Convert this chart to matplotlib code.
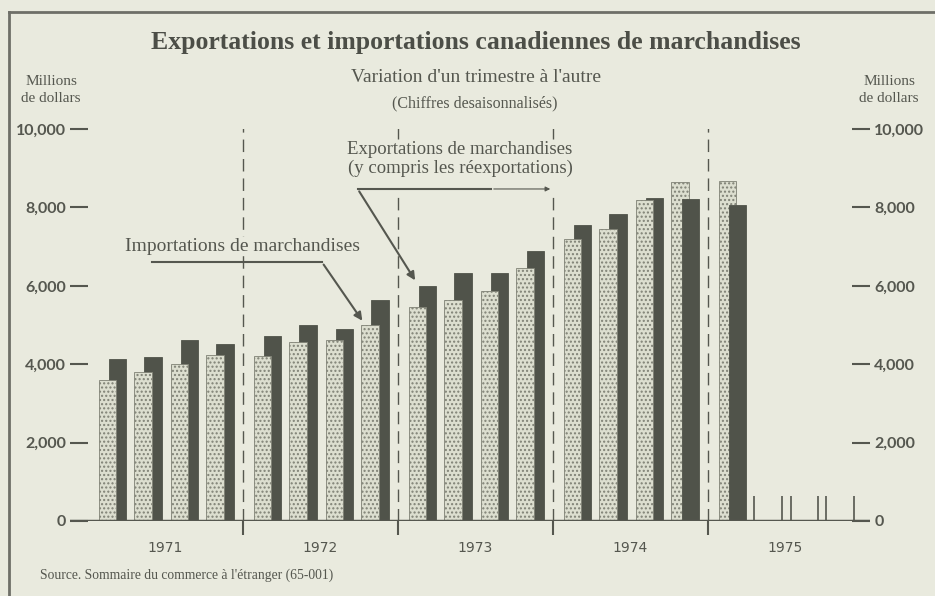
import numpy as np
import matplotlib
matplotlib.use('Agg')
import matplotlib.pyplot as plt
from matplotlib.transforms import blended_transform_factory

# donnees trimestrielles (millions de dollars, desaisonnalisees)
annees = ['1971', '1972', '1973', '1974', '1975']
importations = [3600, 3800, 4000, 4230, 4200, 4560, 4610, 5010, 5450, 5630, 5870, 6460,
                7200, 7460, 8200, 8640, 8680]
exportations = [4120, 4180, 4610, 4520, 4720, 5010, 4900, 5650, 6000, 6330, 6320, 6900,
                7560, 7820, 8250, 8220, 8070]
yticks = [0, 2000, 4000, 6000, 8000, 10000]
ylabels = ['0', '2,000', '4,000', '6,000', '8,000', '10,000']

fond = '#e9eade'
gris = '#55574f'
fonce = '#50534a'
clair = '#dcdecf'

fig = plt.figure(figsize=(9.35, 5.96), dpi=100, facecolor=fond)
ax = fig.add_axes([70/935, 1-521/596, 800/935, 392/596])
ax.set_facecolor(fond)

# position des trimestres dans chaque annee
decal = np.array([0.125, 0.355, 0.59, 0.82])
n = len(importations)
pos = np.array([i // 4 + decal[i % 4] for i in range(n)])
larg = 0.112
dx = 0.065

b_imp = ax.bar(pos, importations, width=larg, color=clair, edgecolor='#7f8175',
               linewidth=0.6, hatch='....')
b_exp = ax.bar(pos + dx, exportations, width=larg, color=fonce, edgecolor=fonce, linewidth=0.6)
# la barre la plus courte passe devant
for bi, be, vi, ve in zip(b_imp, b_exp, importations, exportations):
    if vi <= ve:
        bi.set_zorder(3); be.set_zorder(2)
    else:
        bi.set_zorder(2); be.set_zorder(3)

# trimestres 1975 pas encore publies: petits reperes
for q in range(n, 20):
    x = q // 4 + decal[q % 4]
    ax.vlines([x - larg/2, x + dx + larg/2], 0, 650, color=gris, lw=1.2, zorder=2)

# separateurs d'annees
for k in [1, 4]:
    ax.vlines(k, 0, 10100, color=gris, lw=1.0, linestyles=(0, (9, 5)), zorder=1)
for k in [2, 3]:
    ax.vlines(k, 0, 8350, color=gris, lw=1.0, linestyles=(0, (9, 5)), zorder=1)
    ax.vlines(k, 9750, 10100, color=gris, lw=1.0, zorder=1)

ax.axhline(0, color=gris, lw=2.5, zorder=4)
ax.set_xlim(-0.116, 5.045)
ax.set_ylim(0, 10000)
for s in ax.spines.values():
    s.set_visible(False)

ax.set_yticks(yticks)
ax.set_yticklabels(ylabels)
ax.tick_params(axis='y', direction='in', length=13, width=1.5, color=gris,
               left=True, right=True, labelleft=True, labelright=True, pad=3,
               labelcolor=gris, labelsize=11.5)
for lab in ax.get_yticklabels():
    lab.set_fontfamily('Lato'); lab.set_fontweight('bold')
ax.set_xticks([1, 2, 3, 4])
ax.set_xticklabels([])
ax.tick_params(axis='x', direction='out', length=10, width=1.5, color=gris)

trans = blended_transform_factory(ax.transData, ax.transAxes)
for i, a in enumerate(annees):
    ax.text(i + 0.5, -0.07, a, transform=trans, ha='center', va='center',
            fontsize=10, color=gris, family='DejaVu Sans')

# annotations
ax.text(1.0, 7000, 'Importations de marchandises', ha='center', va='center',
        fontsize=14, color=gris, family='Liberation Serif', zorder=5,
        bbox=dict(facecolor=fond, edgecolor='none', pad=1))
ax.plot([0.41, 1.51], [6600, 6600], color=gris, lw=1.5, zorder=5)
ax.annotate('', xy=(pos[7] - 0.04, importations[7] + 40), xytext=(1.51, 6600),
            arrowprops=dict(arrowstyle='-|>', color=gris, lw=1.5, mutation_scale=12),
            zorder=5)

ax.text(2.4, 9230, 'Exportations de marchandises\n(y compris les réexportations)',
        ha='center', va='center', fontsize=13.5, color=gris, family='Liberation Serif',
        linespacing=1.1, zorder=5)
ax.plot([1.74, 2.6], [8470, 8470], color=gris, lw=1.5, zorder=5)
ax.annotate('', xy=(3.0, 8470), xytext=(2.6, 8470),
            arrowprops=dict(arrowstyle='-|>', color=gris, lw=0.8, mutation_scale=7),
            zorder=5)
ax.annotate('', xy=(pos[8] + dx - 0.07, exportations[8] + 80), xytext=(1.74, 8470),
            arrowprops=dict(arrowstyle='-|>', color=gris, lw=1.5, mutation_scale=12),
            zorder=5)

# titres
fig.text(476/935, 1-43/596, 'Exportations et importations canadiennes de marchandises',
         ha='center', va='center', fontsize=18.5, fontweight='bold', color='#4c4e47',
         family='Liberation Serif')
fig.text(476/935, 1-78/596, "Variation d'un trimestre à l'autre", ha='center', va='center',
         fontsize=14, color=gris, family='Liberation Serif')
fig.text(475/935, 1-103/596, '(Chiffres desaisonnalisés)', ha='center', va='center',
         fontsize=11.5, color=gris, family='Liberation Serif')
fig.text(51/935, 1-90/596, 'Millions\nde dollars', ha='center', va='center',
         fontsize=11, color=gris, family='Liberation Serif', linespacing=1.4)
fig.text(889/935, 1-90/596, 'Millions\nde dollars', ha='center', va='center',
         fontsize=11, color=gris, family='Liberation Serif', linespacing=1.4)
fig.text(40/935, 1-575/596, "Source. Sommaire du commerce à l'étranger (65-001)",
         ha='left', va='center', fontsize=9.8, color=gris, family='Liberation Serif')

# cadre
fig.add_artist(plt.Line2D([9/935, 9/935], [0, 1-12/596], color='#6e6f68', lw=2))
fig.add_artist(plt.Line2D([9/935, 1], [1-12/596, 1-12/596], color='#6e6f68', lw=2))

fig.savefig('out.png', dpi=100, facecolor=fond)
